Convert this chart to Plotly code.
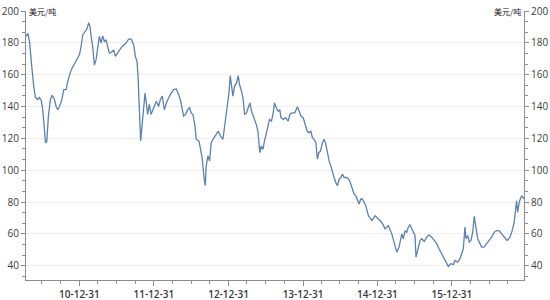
import plotly.graph_objects as go
import pandas as pd
from datetime import datetime, timedelta

# Decimal-year positions and price values (USD/t)
t_years = [
    2010.286, 2010.307, 2010.330, 2010.343, 2010.361, 2010.387, 2010.410, 2010.441, 2010.464, 2010.487,
    2010.508, 2010.531, 2010.544, 2010.562, 2010.584, 2010.611, 2010.634, 2010.665, 2010.688, 2010.709,
    2010.732, 2010.763, 2010.790, 2010.822, 2010.843, 2010.889, 2010.933, 2010.969, 2011.000, 2011.023,
    2011.044, 2011.076, 2011.103, 2011.125, 2011.143, 2011.157, 2011.178, 2011.201, 2011.224, 2011.245,
    2011.268, 2011.291, 2011.312, 2011.335, 2011.358, 2011.379, 2011.402, 2011.416, 2011.460, 2011.483,
    2011.527, 2011.572, 2011.617, 2011.661, 2011.697, 2011.728, 2011.751, 2011.773, 2011.787, 2011.804,
    2011.822, 2011.840, 2011.862, 2011.881, 2011.898, 2011.916, 2011.938, 2011.961, 2011.996, 2012.032,
    2012.063, 2012.086, 2012.113, 2012.139, 2012.176, 2012.220, 2012.264, 2012.300, 2012.331, 2012.354,
    2012.377, 2012.398, 2012.425, 2012.452, 2012.479, 2012.501, 2012.524, 2012.551, 2012.568, 2012.605,
    2012.626, 2012.649, 2012.672, 2012.689, 2012.702, 2012.725, 2012.747, 2012.769, 2012.792, 2012.814,
    2012.836, 2012.863, 2012.894, 2012.926, 2012.961, 2012.984, 2013.007, 2013.024, 2013.042, 2013.060,
    2013.082, 2013.109, 2013.131, 2013.149, 2013.176, 2013.198, 2013.216, 2013.243, 2013.265, 2013.288,
    2013.310, 2013.332, 2013.355, 2013.373, 2013.395, 2013.409, 2013.422, 2013.440, 2013.462, 2013.484,
    2013.507, 2013.530, 2013.551, 2013.578, 2013.601, 2013.618, 2013.641, 2013.668, 2013.690, 2013.704,
    2013.735, 2013.765, 2013.802, 2013.824, 2013.855, 2013.891, 2013.926, 2013.949, 2013.972, 2014.003,
    2014.026, 2014.056, 2014.083, 2014.106, 2014.127, 2014.150, 2014.173, 2014.194, 2014.213, 2014.235,
    2014.261, 2014.284, 2014.307, 2014.328, 2014.351, 2014.374, 2014.395, 2014.418, 2014.441, 2014.463,
    2014.485, 2014.508, 2014.530, 2014.552, 2014.583, 2014.615, 2014.642, 2014.664, 2014.686, 2014.709,
    2014.731, 2014.753, 2014.776, 2014.798, 2014.820, 2014.843, 2014.878, 2014.924, 2014.968, 2015.012,
    2015.058, 2015.102, 2015.146, 2015.192, 2015.227, 2015.259, 2015.290, 2015.326, 2015.347, 2015.370,
    2015.393, 2015.414, 2015.437, 2015.460, 2015.481, 2015.504, 2015.517, 2015.540, 2015.571, 2015.594,
    2015.629, 2015.661, 2015.692, 2015.728, 2015.763, 2015.795, 2015.826, 2015.862, 2015.897, 2015.929,
    2015.950, 2015.987, 2016.018, 2016.040, 2016.076, 2016.107, 2016.130, 2016.152, 2016.174, 2016.188,
    2016.211, 2016.232, 2016.255, 2016.278, 2016.299, 2016.322, 2016.345, 2016.366, 2016.398, 2016.429,
    2016.465, 2016.496, 2016.532, 2016.567, 2016.599, 2016.630, 2016.666, 2016.701, 2016.741, 2016.778,
    2016.808, 2016.835, 2016.854, 2016.867, 2016.881, 2016.902, 2016.925, 2016.942, 2016.961,
]
prices = [
    184.0, 186.0, 181.0, 175.6, 165.0, 152.7, 145.6, 144.4, 145.6, 144.0,
    138.0, 125.6, 117.5, 118.0, 134.0, 144.4, 147.0, 144.4, 140.0, 138.0,
    140.0, 144.0, 150.6, 150.6, 155.8, 163.0, 167.0, 170.4, 172.5, 177.7,
    185.0, 187.0, 189.0, 192.7, 190.0, 184.0, 177.7, 166.0, 169.4, 176.7,
    184.0, 179.8, 184.4, 180.8, 181.9, 177.7, 173.5, 173.5, 175.6, 171.5,
    174.6, 177.7, 179.4, 182.3, 182.3, 178.8, 171.5, 168.3, 159.0, 138.0,
    118.3, 127.7, 140.2, 148.5, 142.3, 135.0, 141.3, 135.0, 139.0, 143.3,
    140.0, 144.4, 146.5, 138.0, 143.3, 147.5, 150.6, 151.0, 147.5, 144.4,
    139.2, 134.0, 135.0, 138.0, 139.2, 136.0, 135.0, 127.7, 119.4, 118.3,
    113.0, 106.9, 95.4, 90.2, 102.7, 109.0, 105.8, 117.3, 119.4, 121.4,
    122.5, 124.6, 121.4, 119.4, 130.8, 138.0, 148.5, 159.4, 152.7, 146.5,
    152.7, 154.8, 159.4, 153.8, 149.6, 144.4, 135.0, 136.0, 139.2, 142.3,
    137.0, 134.0, 131.9, 128.8, 124.6, 117.3, 111.0, 115.2, 113.0, 118.3,
    122.5, 127.7, 131.9, 130.8, 136.0, 142.3, 139.2, 137.0, 138.0, 133.0,
    131.9, 133.0, 130.8, 135.0, 136.0, 136.0, 139.8, 137.0, 134.0, 133.0,
    129.8, 124.6, 123.5, 124.6, 120.4, 119.4, 117.3, 106.9, 111.0, 112.0,
    117.3, 119.4, 116.3, 111.0, 105.8, 102.7, 98.6, 95.4, 92.3, 90.2,
    94.4, 95.4, 97.5, 95.4, 95.4, 94.4, 91.3, 88.1, 85.0, 84.0,
    80.8, 78.8, 81.9, 81.9, 79.8, 77.7, 71.4, 68.3, 71.4, 69.4,
    67.3, 63.1, 65.2, 60.0, 54.8, 48.5, 51.7, 60.0, 56.9, 62.0,
    61.0, 64.2, 65.6, 63.1, 61.0, 59.0, 45.4, 50.6, 55.8, 56.9,
    55.2, 57.9, 59.4, 57.9, 55.8, 53.8, 50.6, 47.5, 44.4, 41.3,
    39.6, 41.3, 40.6, 43.3, 42.3, 44.4, 48.5, 50.6, 64.2, 56.9,
    59.0, 54.8, 55.8, 61.0, 71.0, 64.2, 56.9, 54.8, 51.7, 51.7,
    53.8, 55.8, 57.9, 61.0, 62.0, 62.0, 60.0, 57.9, 55.8, 57.9,
    62.0, 67.3, 75.6, 80.8, 73.5, 79.8, 82.9, 84.0, 81.9,
]

x_tick_dates = ["2010-12-31", "2011-12-31", "2012-12-31", "2013-12-31", "2014-12-31", "2015-12-31"]
x_tick_labels = ["10-12-31", "11-12-31", "12-12-31", "13-12-31", "14-12-31", "15-12-31"]
y_ticks = [40, 60, 80, 100, 120, 140, 160, 180, 200]
unit_label = "美元/吨"


def to_date(t):
    base = datetime(2010, 12, 31)
    return base + timedelta(days=(t - 2011.0) * 365.25)


dates = [to_date(t) for t in t_years]
minor_x = [d for d in pd.date_range("2010-03-31", "2016-12-31", freq="QE")
           if d.month != 12]

x_range = [dates[0] - timedelta(days=1), dates[-1] + timedelta(days=2)]
y_range = [31, 200]

line_color = "#5b80b2"
axis_color = "#8c8c8c"
text_color = "#3a3a3a"
num_font = "Open Sans, DejaVu Sans, sans-serif"

fig = go.Figure()
fig.add_trace(go.Scatter(x=dates, y=prices, mode="lines",
                         line=dict(color=line_color, width=1.3), showlegend=False))
fig.add_trace(go.Scatter(x=dates, y=prices, mode="lines", yaxis="y2",
                         line=dict(color="rgba(0,0,0,0)", width=0.1),
                         hoverinfo="skip", showlegend=False))

fig.update_layout(
    width=550, height=300,
    margin=dict(l=26, r=26, t=11, b=20, autoexpand=False),
    paper_bgcolor="white", plot_bgcolor="white",
    xaxis=dict(
        type="date", range=x_range, automargin=False,
        tickmode="array", tickvals=x_tick_dates, ticktext=x_tick_labels,
        ticks="outside", ticklen=5, tickcolor=axis_color, tickwidth=1,
        showline=True, linecolor=axis_color, linewidth=1,
        showgrid=False, zeroline=False,
        tickfont=dict(family=num_font, size=10, color=text_color, weight=600),
        minor=dict(tickmode="array", tickvals=minor_x, ticks="outside",
                   ticklen=3, tickcolor=axis_color, showgrid=False),
    ),
    yaxis=dict(
        range=y_range, tickmode="array", tickvals=y_ticks, automargin=False,
        ticks="outside", ticklen=4, tickcolor=axis_color,
        showline=True, linecolor=axis_color, linewidth=1,
        showgrid=True, gridcolor="#eeeeee", gridwidth=1, zeroline=False,
        tickfont=dict(family=num_font, size=10, color=text_color),
        minor=dict(dtick=20 / 3, tick0=0, ticks="outside", ticklen=3,
                   tickcolor=axis_color, showgrid=False),
    ),
    yaxis2=dict(
        overlaying="y", side="right", matches="y", range=y_range, automargin=False,
        tickmode="array", tickvals=y_ticks,
        ticks="outside", ticklen=4, tickcolor=axis_color,
        showline=True, linecolor=axis_color, linewidth=1,
        showgrid=False, zeroline=False,
        tickfont=dict(family=num_font, size=10, color=text_color),
        minor=dict(dtick=20 / 3, tick0=0, ticks="outside", ticklen=3,
                   tickcolor=axis_color, showgrid=False),
    ),
    annotations=[
        dict(text=unit_label, xref="paper", yref="paper", x=0.003, y=1.0,
             xanchor="left", yanchor="middle", showarrow=False,
             font=dict(family="Noto Sans CJK SC", size=8, color="#222222")),
        dict(text=unit_label, xref="paper", yref="paper", x=0.997, y=1.0,
             xanchor="right", yanchor="middle", showarrow=False,
             font=dict(family="Noto Sans CJK SC", size=8, color="#222222")),
    ],
)

fig.write_html("out.html")
